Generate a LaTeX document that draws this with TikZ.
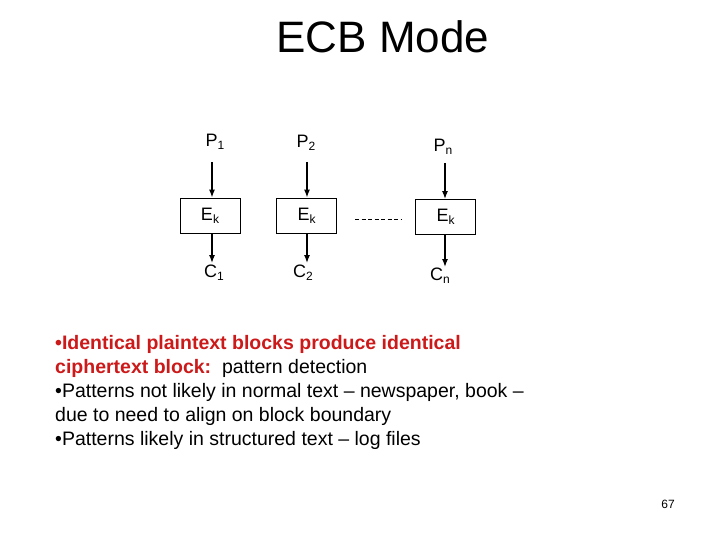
\documentclass[tikz,border=0pt]{standalone}
\usetikzlibrary{arrows.meta}
\usepackage{fontspec}
\setmainfont{Liberation Sans}
\newcommand{\sbs}[1]{\raisebox{-0.35ex}{\fontsize{12}{14}\selectfont #1}}
\begin{document}
\begin{tikzpicture}[x=1pt,y=-1pt,
  box/.style={draw,line width=0.8pt,minimum width=60pt,minimum height=35pt,inner sep=0pt,font=\fontsize{18}{20}\selectfont},
  lab/.style={font=\fontsize{18}{20}\selectfont,inner sep=1pt},
  arr/.style={-{Latex[length=8pt,width=6pt]},line width=1.3pt}]
\useasboundingbox (0,0) rectangle (720,540);
\node[font=\fontsize{44}{50}\selectfont] (title) at (383,37) {ECB Mode};
\node[box] (e1) at (210,215.5) {E\sbs{k}};
\node[box] (e2) at (306.5,215.5) {E\sbs{k}};
\node[box] (e3) at (445.5,217) {E\sbs{k}};
\node[lab] (p1) at (215,142) {P\sbs{1}};
\node[lab] (p2) at (306,143) {P\sbs{2}};
\node[lab] (p3) at (443,147) {P\sbs{n}};
\node[lab] (c1) at (214,273) {C\sbs{1}};
\node[lab] (c2) at (303,273) {C\sbs{2}};
\node[lab] (c3) at (440,276) {C\sbs{n}};
\coordinate (a1) at (212,162); \coordinate (b1) at (212,263);
\coordinate (a2) at (307,162); \coordinate (b2) at (307,263);
\coordinate (a3) at (445,163); \coordinate (b3) at (445,267);
\draw[arr] (a1) -- (e1.north -| a1);
\draw[arr] (e1.south -| a1) -- (b1);
\draw[arr] (a2) -- (e2.north -| a2);
\draw[arr] (e2.south -| a2) -- (b2);
\draw[arr] (a3) -- (e3.north -| a3);
\draw[arr] (e3.south -| a3) -- (b3);
\coordinate (d1) at (355,219); \coordinate (d2) at (401,219);
\draw[dash pattern=on 4pt off 2.5pt,line width=0.6pt] (d1) -- (d2);
\node[anchor=north west,align=left,font=\fontsize{19.5}{24}\selectfont,inner sep=0pt] (txt) at (55,335)
{\color[rgb]{0.8,0.1,0.1}\bfseries •Identical plaintext blocks produce identical\\
\color[rgb]{0.8,0.1,0.1}\bfseries ciphertext block:\color{black}\mdseries\ \ pattern detection\\
•Patterns not likely in normal text -- newspaper, book --\\
due to need to align on block boundary\\
•Patterns likely in structured text -- log files};
\node[font=\fontsize{12}{14}\selectfont] (pg) at (668,504) {67};
\end{tikzpicture}
\end{document}
